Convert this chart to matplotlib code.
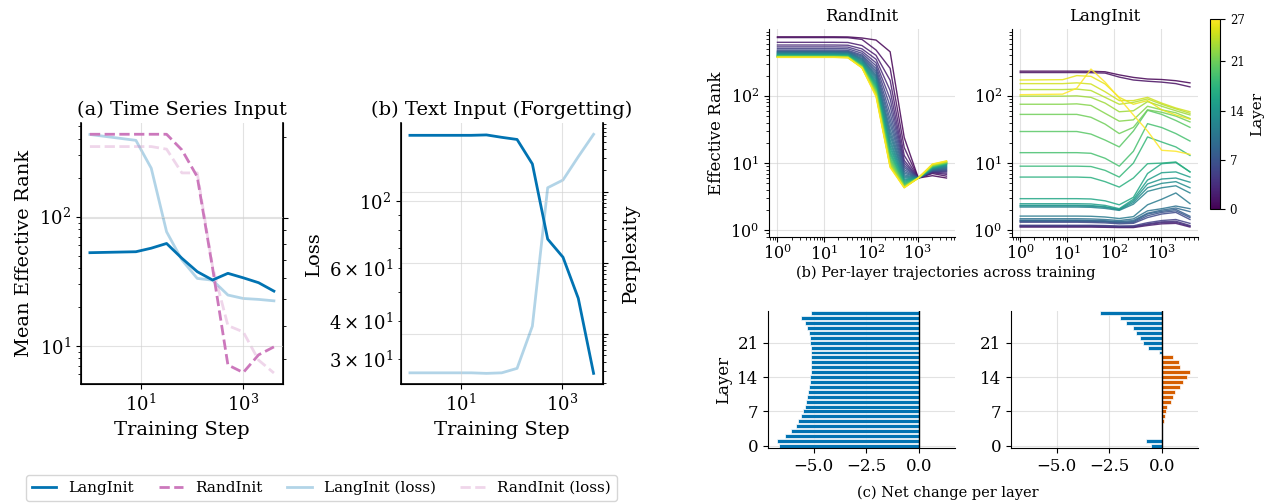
import numpy as np
import matplotlib as mpl
import matplotlib.pyplot as plt
from matplotlib.font_manager import FontProperties

plt.rcParams['font.family'] = 'DejaVu Serif'
plt.rcParams['mathtext.fontset'] = 'dejavuserif'

BLUE = '#0173b2'
PINK = '#cc78bc'
ORANGE = '#d55e00'

steps = [1, 8, 16, 32, 64, 128, 256, 512, 1024, 2048, 4096]

# (a) time series input
ts_lang_rank = [52.6, 53.5, 57, 62, 47.6, 37.5, 32.3, 36.4, 33.6, 30.8, 26.5]
ts_rand_rank = [435, 435, 435, 435, 329, 204, 40, 7.1, 6.2, 8.5, 9.8]
ts_lang_loss = [2.04, 1.94, 1.53, 0.89, 0.70, 0.598, 0.589, 0.519, 0.504, 0.50, 0.494]
ts_rand_loss = [1.84, 1.84, 1.84, 1.80, 1.47, 1.47, 0.66, 0.40, 0.379, 0.298, 0.267]

# (b) text input
txt_lang_loss = [164.5, 164.5, 164.5, 165, 162, 159.4, 132.3, 74.7, 65.1, 47.6, 26.9]
txt_lang_ppl = [28.2, 28.2, 28.2, 27.7, 28.2, 32.6, 128, 11380, 14620, 31120, 64300]

# per-layer effective rank, rows = layers 0..27
rand_traj = [
    [755, 755, 755, 752, 725, 675, 452, 24, 6.0, 6.5, 6.0],
    [735, 735, 735, 732, 690, 480, 256, 17, 6.0, 7.0, 6.4],
    [625, 625, 625, 622, 560, 400, 170, 13, 6.0, 7.2, 6.8],
    [570, 570, 570, 566, 500, 350, 120, 11, 6.0, 7.3, 7.1],
    [535, 535, 535, 531, 460, 310, 90, 10, 6.0, 7.4, 7.4],
    [505, 505, 505, 501, 430, 280, 70, 9.2, 6.0, 7.5, 7.6],
    [480, 480, 480, 476, 405, 255, 55, 8.6, 6.0, 7.6, 7.8],
    [465, 465, 465, 461, 390, 235, 45, 8.0, 6.0, 7.7, 8.0],
    [455, 455, 455, 451, 375, 220, 38, 7.5, 6.0, 7.8, 8.2],
    [448, 448, 448, 444, 360, 205, 32, 7.1, 6.0, 7.9, 8.4],
    [440, 440, 440, 436, 350, 195, 28, 6.7, 6.0, 8.0, 8.6],
    [432, 432, 432, 428, 340, 185, 25, 6.4, 6.0, 8.1, 8.8],
    [425, 425, 425, 421, 330, 175, 22, 6.1, 6.0, 8.2, 9.0],
    [418, 418, 418, 414, 320, 165, 20, 5.8, 6.0, 8.3, 9.2],
    [412, 412, 412, 408, 310, 157, 18, 5.6, 6.0, 8.4, 9.4],
    [406, 406, 406, 402, 300, 150, 16.5, 5.4, 6.0, 8.5, 9.6],
    [400, 400, 400, 396, 295, 143, 15, 5.2, 6.0, 8.6, 9.7],
    [396, 396, 396, 392, 290, 137, 14, 5.0, 6.0, 8.7, 9.8],
    [392, 392, 392, 388, 285, 131, 13, 4.9, 6.0, 8.8, 9.9],
    [389, 389, 389, 385, 280, 126, 12, 4.8, 6.0, 8.9, 10.0],
    [386, 386, 386, 382, 277, 122, 11.3, 4.7, 6.0, 9.0, 10.1],
    [383, 383, 383, 379, 274, 118, 10.7, 4.6, 6.0, 9.1, 10.2],
    [381, 381, 381, 377, 271, 114, 10.2, 4.5, 6.0, 9.2, 10.3],
    [379, 379, 379, 375, 268, 110, 9.7, 4.45, 6.0, 9.3, 10.4],
    [377, 377, 377, 373, 266, 106, 9.3, 4.4, 6.0, 9.4, 10.5],
    [375, 375, 375, 371, 264, 103, 9.0, 4.35, 6.0, 9.5, 10.6],
    [374, 374, 374, 370, 262, 100, 8.8, 4.3, 6.0, 9.6, 10.7],
    [373, 373, 373, 369, 260, 97, 8.6, 4.3, 6.0, 9.7, 10.8],
]
lang_traj = [
    [233, 233, 233, 232, 228, 205, 188, 178, 175, 168, 156],
    [222, 222, 222, 221, 218, 190, 172, 165, 160, 152, 136],
    [1.12, 1.12, 1.12, 1.12, 1.11, 1.10, 1.10, 1.18, 1.25, 1.27, 1.12],
    [1.14, 1.14, 1.14, 1.14, 1.13, 1.12, 1.12, 1.22, 1.30, 1.32, 1.15],
    [1.17, 1.17, 1.17, 1.17, 1.16, 1.14, 1.14, 1.25, 1.34, 1.37, 1.18],
    [1.19, 1.19, 1.19, 1.19, 1.18, 1.16, 1.17, 1.30, 1.40, 1.45, 1.27],
    [1.32, 1.32, 1.32, 1.31, 1.29, 1.25, 1.27, 1.55, 1.75, 1.85, 1.45],
    [1.36, 1.36, 1.36, 1.35, 1.33, 1.29, 1.31, 1.65, 1.85, 1.95, 1.55],
    [1.39, 1.39, 1.39, 1.38, 1.36, 1.32, 1.35, 1.75, 1.92, 2.05, 1.62],
    [1.42, 1.42, 1.42, 1.41, 1.39, 1.35, 1.40, 1.80, 2.0, 2.15, 1.90],
    [1.49, 1.49, 1.49, 1.48, 1.45, 1.40, 1.48, 1.95, 2.1, 2.3, 2.1],
    [1.63, 1.63, 1.63, 1.62, 1.58, 1.50, 1.60, 2.4, 2.9, 3.6, 2.5],
    [2.22, 2.22, 2.22, 2.20, 2.12, 1.98, 2.45, 3.8, 4.3, 4.6, 3.6],
    [2.30, 2.30, 2.30, 2.28, 2.20, 2.02, 2.6, 4.3, 5.0, 5.3, 4.3],
    [2.36, 2.36, 2.36, 2.34, 2.25, 2.05, 2.75, 4.9, 5.8, 6.0, 5.2],
    [2.49, 2.49, 2.49, 2.47, 2.35, 2.1, 2.9, 5.6, 7.2, 7.4, 6.2],
    [2.96, 2.96, 2.96, 2.93, 2.75, 2.4, 3.1, 7.0, 9.8, 10.2, 7.4],
    [6.2, 6.2, 6.2, 6.1, 5.3, 4.4, 6.0, 9.8, 10.0, 10.4, 7.4],
    [9.0, 9.0, 9.0, 8.9, 7.8, 6.2, 10, 24.5, 20.6, 17.4, 13.0],
    [14.3, 14.3, 14.3, 14.0, 11.8, 9.0, 15, 38.6, 33.8, 27.5, 21.3],
    [29.5, 29.5, 29.5, 27, 22, 17.4, 30, 61, 53, 43, 34],
    [53, 53, 53, 48, 38, 27.5, 34, 62, 57, 50, 41],
    [75, 75, 76, 72, 55, 42, 44, 70, 62, 56, 46],
    [99, 99, 100, 95, 78, 58, 60, 82, 70, 60, 52],
    [124, 124, 126, 120, 95, 75, 80, 90, 75, 64, 55],
    [152, 152, 156, 150, 115, 85, 85, 95, 78, 66, 58],
    [172, 174, 200, 195, 150, 95, 75, 85, 62, 52, 45],
    [104, 106, 130, 250, 160, 92, 52, 30, 15.5, 15, 13.5],
]

# net change per layer (log2 final / initial)
layers = list(range(28))
rand_delta = [-6.66, -6.76, -6.36, -6.07, -5.83, -5.73, -5.62, -5.51, -5.42, -5.35,
              -5.30, -5.27, -5.24, -5.19, -5.16, -5.14, -5.14, -5.14, -5.14, -5.14,
              -5.14, -5.16, -5.19, -5.24, -5.30, -5.40, -5.59, -5.14]
lang_delta = [-0.50, -0.77, 0.0, 0.01, 0.03, 0.10, 0.14, 0.21, 0.24, 0.45,
              0.53, 0.64, 0.86, 1.00, 1.20, 1.33, 0.86, 0.81, 0.51, -0.13,
              -0.64, -0.88, -1.04, -1.23, -1.39, -1.68, -2.00, -2.96]

fig = plt.figure(figsize=(12.65, 5.04), dpi=100)

big = 14
tick_big = 13
small = 11
tick_small = 11.5
grid_kw = dict(color='#d0d0d0', alpha=0.6, linewidth=0.8)


def style_left(ax, tw):
    ax.set_xscale('log')
    ax.set_yscale('log')
    tw.set_yscale('log')
    ax.set_xticks([10, 1000])
    ax.xaxis.set_minor_locator(mpl.ticker.NullLocator())
    ax.grid(True, which='major', **grid_kw)
    tw.grid(True, which='major', axis='y', **grid_kw)
    ax.spines['top'].set_visible(False)
    tw.spines['top'].set_visible(False)
    for s in ['left', 'bottom']:
        ax.spines[s].set_linewidth(1.2)
    tw.spines['right'].set_linewidth(1.2)
    ax.tick_params(which='both', labelsize=tick_big)
    tw.tick_params(which='both', labelright=False)
    ax.set_zorder(tw.get_zorder() + 1)
    ax.patch.set_visible(False)
    ax.set_xlabel('Training Step', fontsize=big)


# (a)
ax_a = fig.add_axes([0.0638, 0.238, 0.160, 0.518])
tw_a = ax_a.twinx()
style_left(ax_a, tw_a)
tw_a.plot(steps, ts_lang_loss, color=BLUE, alpha=0.3, lw=2)
tw_a.plot(steps, ts_rand_loss, color=PINK, alpha=0.3, lw=2, ls='--')
l1, = ax_a.plot(steps, ts_lang_rank, color=BLUE, lw=2)
l2, = ax_a.plot(steps, ts_rand_rank, color=PINK, lw=2, ls='--')
ax_a.set_ylim(5.05, 532)
tw_a.set_ylim(0.243, 2.25)
ax_a.set_ylabel('Mean Effective Rank', fontsize=big)
ax_a.set_title('(a) Time Series Input', fontsize=big)

# (b)
ax_b = fig.add_axes([0.3168, 0.238, 0.1597, 0.518])
tw_b = ax_b.twinx()
style_left(ax_b, tw_b)
tw_b.plot(steps, txt_lang_ppl, color=BLUE, alpha=0.3, lw=2)
ax_b.plot(steps, txt_lang_loss, color=BLUE, lw=2)
ax_b.set_ylim(24.8, 180.7)
tw_b.set_ylim(19.6, 92900)
ax_b.set_ylabel('Loss', fontsize=big)
tw_b.set_ylabel('Perplexity', fontsize=big, labelpad=10)
ax_b.set_title('(b) Text Input (Forgetting)', fontsize=big)

# legend
h3 = mpl.lines.Line2D([], [], color=BLUE, alpha=0.3, lw=2)
h4 = mpl.lines.Line2D([], [], color=PINK, alpha=0.3, lw=2, ls='--')
fig.legend([l1, l2, h3, h4], ['LangInit', 'RandInit', 'LangInit (loss)', 'RandInit (loss)'],
           loc='center', bbox_to_anchor=(0.254, 0.032), ncol=4,
           prop=FontProperties(family='DejaVu Serif', size=11),
           handlelength=1.6, columnspacing=1.6, borderaxespad=0.2)

# per-layer trajectories
cmap = plt.cm.viridis
norm = mpl.colors.Normalize(0, 27)
ax_r = fig.add_axes([0.6079, 0.530, 0.147, 0.4115])
ax_l = fig.add_axes([0.7998, 0.530, 0.1476, 0.4115], sharey=ax_r)
for ax, traj, title in [(ax_r, rand_traj, 'RandInit'), (ax_l, lang_traj, 'LangInit')]:
    for i, row in enumerate(traj):
        ax.plot(steps, row, color=cmap(norm(i)), lw=1, alpha=0.85)
    ax.set_xscale('log')
    ax.set_yscale('log')
    ax.set_xticks([1, 10, 100, 1000])
    ax.xaxis.set_minor_locator(mpl.ticker.LogLocator(subs=np.arange(2, 10), numticks=20))
    ax.set_title(title, fontsize=small + 1)
    ax.grid(True, which='major', **grid_kw)
    ax.spines['top'].set_visible(False)
    ax.spines['right'].set_visible(False)
    ax.tick_params(labelsize=tick_small)
    ax.tick_params(axis='x', pad=2)
ax_r.set_ylim(0.8, 970)
ax_r.set_ylabel('Effective Rank', fontsize=small + 1)
fig.text(0.748, 0.458, '(b) Per-layer trajectories across training', ha='center', va='center', fontsize=10.5)

cax = fig.add_axes([0.9565, 0.585, 0.0079, 0.377])
cb = fig.colorbar(mpl.cm.ScalarMappable(norm=norm, cmap=cmap), cax=cax, ticks=[0, 7, 14, 21, 27])
cb.ax.tick_params(labelsize=8.5)
cb.set_label('Layer', fontsize=small)

# net change bars
ax_br = fig.add_axes([0.6074, 0.1105, 0.1476, 0.273])
ax_bl = fig.add_axes([0.7992, 0.1105, 0.1481, 0.273], sharex=ax_br)
for ax, delta in [(ax_br, rand_delta), (ax_bl, lang_delta)]:
    cols = [BLUE if v < 0 else ORANGE for v in delta]
    ax.barh(layers, delta, height=0.8, color=cols, edgecolor='white', linewidth=0.5)
    ax.axvline(0, color='black', lw=1)
    ax.set_ylim(-0.5, 27.5)
    ax.set_yticks([0, 7, 14, 21])
    ax.set_xticks([-5.0, -2.5, 0.0])
    ax.grid(True, which='major', **grid_kw)
    ax.set_axisbelow(True)
    ax.spines['top'].set_visible(False)
    ax.spines['right'].set_visible(False)
    ax.tick_params(labelsize=12)
ax_br.set_ylabel('Layer', fontsize=small + 1)
fig.text(0.749, 0.022, '(c) Net change per layer', ha='center', va='center', fontsize=10.5)

fig.savefig('out.png', dpi=100)
